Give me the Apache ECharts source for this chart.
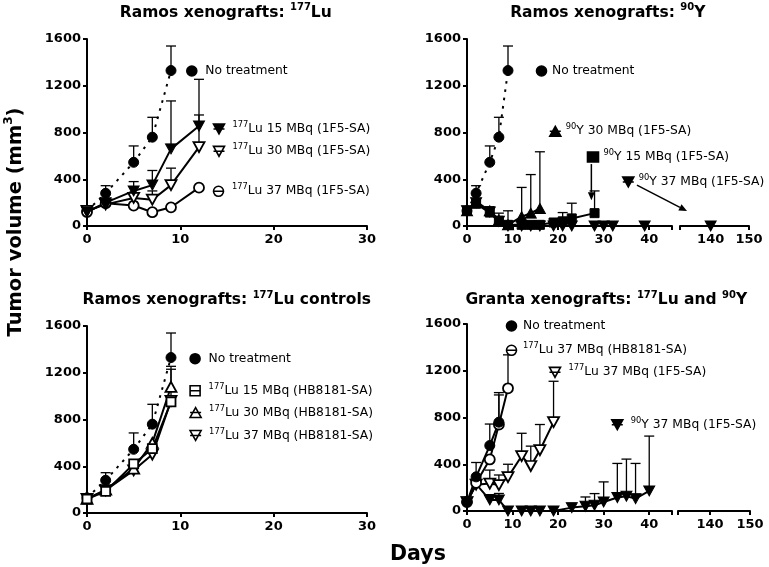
<!DOCTYPE html>
<html><head><meta charset="utf-8">
<script src="https://cdn.jsdelivr.net/npm/echarts@6/dist/echarts.min.js"></script>
<style>html,body{margin:0;padding:0;background:#fff}#c{width:769px;height:567px}</style>
</head><body><div id="c"></div>
<script>
// ---------- tick labels ----------
const yTicks = [0, 400, 800, 1200, 1600];
const xTicksShort = [0, 10, 20, 30];
const xTicksBrokenA = [0, 10, 20, 30, 40];
const xTicksBrokenB = [140, 150];

// ---------- Ramos: no treatment (same group shown in three panels) ----------
const ramosNtDays = [0, 2, 5, 7, 9];
const ramosNtMean = [130, 280, 545, 760, 1330];
const ramosNtTop  = [null, 345, 685, 930, 1540];

// ---------- Panel 1: Ramos 177Lu (1F5-SA) ----------
const lu15Days = [0, 2, 5, 7, 9, 12];
const lu15Mean = [120, 200, 300, 350, 660, 855];
const lu15Top  = [null, null, 380, 475, 1070, 950];
const lu30Days = [0, 2, 5, 7, 9, 12];
const lu30Mean = [130, 185, 240, 225, 350, 675];
const lu30Top  = [null, null, null, 300, 495, 1255];
const lu37Days = [0, 2, 5, 7, 9, 12];
const lu37Mean = [120, 195, 175, 118, 160, 328];

// ---------- Panel 2: Ramos 90Y (1F5-SA) ----------
const y15Days = [0, 2, 5, 7, 9, 12, 14, 16, 19, 21, 23, 28];
const y15Mean = [130, 190, 115, 45, 10, 10, 10, 10, 30, 40, 65, 110];
const y15Top  = [null, null, 165, 110, 130, null, null, null, null, 115, 195, 300];
const y30Days = [0, 2, 5, 7, 9, 12, 14, 16];
const y30Mean = [130, 210, 130, 50, 10, 80, 110, 150];
const y30Top  = [null, null, null, null, null, 330, 440, 635];
const y37Days = [0, 2, 5, 7, 9, 12, 14, 16, 19, 21, 23, 28, 30, 32, 39];
const y37Mean = [130, 200, 120, 40, 0, 0, 0, 0, 0, 0, 0, 0, 0, 0, 0];
const y37LateDays = [140];
const y37LateMean = [0];

// ---------- Panel 3: Ramos 177Lu controls (HB8181-SA) ----------
const hb15Days = [0, 2, 5, 7, 9];
const hb15Mean = [120, 185, 420, 550, 950];
const hb15Top  = [null, null, null, null, 1230];
const hb30Days = [0, 2, 5, 7, 9];
const hb30Mean = [120, 200, 380, 600, 1080];
const hb30Top  = [null, null, null, null, 1255];
const hb37Days = [0, 2, 5, 7, 9];
const hb37Mean = [120, 195, 365, 500, 960];

// ---------- Panel 4: Granta 177Lu and 90Y ----------
const gNtDays = [0, 2, 5, 7];
const gNtMean = [77, 292, 560, 760];
const gNtTop  = [null, 415, 744, 1013];
const gHbDays = [0, 2, 5, 7, 9];
const gHbMean = [77, 240, 441, 740, 1050];
const gHbTop  = [null, null, null, 993, 1336];
const gLuDays = [0, 2, 5, 7, 9, 12, 14, 16, 19];
const gLuMean = [77, 225, 235, 222, 290, 470, 385, 520, 760];
const gLuTop  = [null, null, 350, 308, 400, 665, 555, 740, 1110];
const gYDays = [0, 2, 5, 7, 9, 12, 14, 16, 19, 23, 26, 28, 30, 33, 35, 37, 40];
const gYMean = [77, 230, 95, 95, 0, 0, 0, 0, 0, 29, 40, 49, 77, 115, 126, 106, 172];
const gYTop  = [null, null, 140, 150, null, null, null, null, null, null, 120, 149, 249, 407, 444, 407, 641];

// ---------- helpers ----------
const FONT = 'DejaVu Sans';
const pairs = (d, v) => d.map((x, i) => [x, v[i]]);
const FILLED = { color: '#000', borderColor: '#000', borderWidth: 1 };
const OPEN = { color: '#fff', borderColor: '#000', borderWidth: 1.8 };
const SYM = {
  circle: { symbol: 'circle', symbolSize: 10, symbolRotate: 0 },
  down: { symbol: 'triangle', symbolSize: [11, 10], symbolRotate: 180 },
  up: { symbol: 'triangle', symbolSize: [11, 10], symbolRotate: 0 },
  square: { symbol: 'rect', symbolSize: 9, symbolRotate: 0 }
};
function lineSeries(name, g, days, vals, sym, filled, dotted) {
  return Object.assign({
    type: 'line', name: name, xAxisIndex: g, yAxisIndex: g,
    data: pairs(days, vals), showSymbol: true, clip: false, z: 3,
    animation: false, silent: true,
    lineStyle: { color: '#000', width: 2, type: dotted ? [2.6, 5.8] : 'solid' },
    itemStyle: filled ? FILLED : OPEN,
    emphasis: { disabled: true }
  }, SYM[sym]);
}
const errStyle = { stroke: '#000', lineWidth: 1.3 };
function errSeries(g, days, mean, top) {
  return {
    type: 'custom', xAxisIndex: g, yAxisIndex: g, z: 1, silent: true, clip: false, animation: false,
    data: days.map((d, i) => [d, mean[i], top[i]]).filter(r => r[2] != null),
    encode: { x: 0, y: [1, 2] },
    renderItem: function (params, api) {
      const x = api.value(0);
      const a = api.coord([x, api.value(1)]);
      const b = api.coord([x, api.value(2)]);
      return { type: 'group', children: [
        { type: 'line', shape: { x1: a[0], y1: a[1], x2: b[0], y2: b[1] }, style: errStyle },
        { type: 'line', shape: { x1: b[0] - 5, y1: b[1], x2: b[0] + 5, y2: b[1] }, style: errStyle }
      ] };
    }
  };
}

// ---------- grids and axes ----------
const grids = [
  { left: 87, top: 39, width: 280, height: 187 },
  { left: 467, top: 39, width: 205, height: 187 },
  { left: 680, top: 39, width: 69, height: 187 },
  { left: 87, top: 326, width: 280, height: 187 },
  { left: 467, top: 324, width: 205, height: 187 },
  { left: 678, top: 324, width: 72, height: 187 }
].map(g => Object.assign({ containLabel: false, outerBoundsMode: 'none' }, g));

const axisLine = { show: true, onZero: false, lineStyle: { color: '#000', width: 2 } };
const tickStyle = { lineStyle: { color: '#000', width: 2 }, length: 4, inside: false };
const labStyle = { color: '#000', fontFamily: FONT, fontWeight: 'bold', fontSize: 13, formatter: v => String(v) };
function xAxis(g, min, max, labels, ticks) {
  return {
    type: 'value', gridIndex: g, min: min, max: max,
    axisLine: axisLine, splitLine: { show: false },
    axisTick: Object.assign({ customValues: ticks }, tickStyle),
    axisLabel: Object.assign({ customValues: labels, margin: 7, showMinLabel: true, showMaxLabel: true }, labStyle)
  };
}
function yAxis(g, show) {
  return {
    type: 'value', gridIndex: g, min: 0, max: 1600, show: show,
    axisLine: axisLine, splitLine: { show: false },
    axisTick: Object.assign({ customValues: yTicks }, tickStyle),
    axisLabel: Object.assign({ customValues: yTicks, margin: 6 }, labStyle)
  };
}
const xAxes = [
  xAxis(0, 0, 30, xTicksShort, xTicksShort),
  xAxis(1, 0, 45, xTicksBrokenA, xTicksBrokenA.concat([45])),
  xAxis(2, 132, 150, xTicksBrokenB, [132].concat(xTicksBrokenB)),
  xAxis(3, 0, 30, xTicksShort, xTicksShort),
  xAxis(4, 0, 45, xTicksBrokenA, xTicksBrokenA.concat([45])),
  xAxis(5, 132, 150, xTicksBrokenB, [132].concat(xTicksBrokenB))
];
const yAxes = [yAxis(0, true), yAxis(1, true), yAxis(2, false), yAxis(3, true), yAxis(4, true), yAxis(5, false)];

// ---------- series ----------
const series = [
  // panel 1
  errSeries(0, ramosNtDays, ramosNtMean, ramosNtTop),
  errSeries(0, lu15Days, lu15Mean, lu15Top),
  errSeries(0, lu30Days, lu30Mean, lu30Top),
  lineSeries('p1nt', 0, ramosNtDays, ramosNtMean, 'circle', true, true),
  lineSeries('p1lu37', 0, lu37Days, lu37Mean, 'circle', false, false),
  lineSeries('p1lu30', 0, lu30Days, lu30Mean, 'down', false, false),
  lineSeries('p1lu15', 0, lu15Days, lu15Mean, 'down', true, false),
  // panel 2
  errSeries(1, ramosNtDays, ramosNtMean, ramosNtTop),
  errSeries(1, y15Days, y15Mean, y15Top),
  errSeries(1, y30Days, y30Mean, y30Top),
  lineSeries('p2nt', 1, ramosNtDays, ramosNtMean, 'circle', true, true),
  lineSeries('p2y37', 1, y37Days, y37Mean, 'down', true, false),
  lineSeries('p2y30', 1, y30Days, y30Mean, 'up', true, false),
  lineSeries('p2y15', 1, y15Days, y15Mean, 'square', true, false),
  lineSeries('p2y37late', 2, y37LateDays, y37LateMean, 'down', true, false),
  // panel 3
  errSeries(3, ramosNtDays, ramosNtMean, ramosNtTop),
  errSeries(3, hb15Days, hb15Mean, hb15Top),
  errSeries(3, hb30Days, hb30Mean, hb30Top),
  lineSeries('p3nt', 3, ramosNtDays, ramosNtMean, 'circle', true, true),
  lineSeries('p3hb37', 3, hb37Days, hb37Mean, 'down', false, false),
  lineSeries('p3hb30', 3, hb30Days, hb30Mean, 'up', false, false),
  lineSeries('p3hb15', 3, hb15Days, hb15Mean, 'square', false, false),
  // panel 4
  errSeries(4, gNtDays, gNtMean, gNtTop),
  errSeries(4, gHbDays, gHbMean, gHbTop),
  errSeries(4, gLuDays, gLuMean, gLuTop),
  errSeries(4, gYDays, gYMean, gYTop),
  lineSeries('p4y37', 4, gYDays, gYMean, 'down', true, false),
  lineSeries('p4lu37', 4, gLuDays, gLuMean, 'down', false, false),
  lineSeries('p4hb37', 4, gHbDays, gHbMean, 'circle', false, false),
  lineSeries('p4nt', 4, gNtDays, gNtMean, 'circle', true, false)
];

// ---------- legends (annotation-style, one per entry) ----------
const ICON = {
  dot: 'circle',
  downF: 'path://M0,0L10,0L5,9Z M0,4.5L10,4.5',
  downO: 'path://M0,0L10,0L5,9Z M0,4.5L10,4.5',
  upF: 'path://M5,0L10,9L0,9Z M0,4.5L10,4.5',
  upO: 'path://M5,0L10,9L0,9Z M0,4.5L10,4.5',
  circO: 'path://M0,5A5,5,0,1,1,10,5A5,5,0,1,1,0,5Z M0,5L10,5',
  sqO: 'path://M0,0L10,0L10,10L0,10Z M0,5L10,5',
  sqF: 'rect'
};
const LABEL = {
  p1nt: '{t|No treatment}', p1lu15: '{s|177}{t|Lu 15 MBq (1F5-SA)}',
  p1lu30: '{s|177}{t|Lu 30 MBq (1F5-SA)}', p1lu37: '{s|177}{t|Lu 37 MBq (1F5-SA)}',
  p2nt: '{t|No treatment}', p2y30: '{s|90}{t|Y 30 MBq (1F5-SA)}',
  p2y15: '{s|90}{t|Y 15 MBq (1F5-SA)}', p2y37: '{s|90}{t|Y 37 MBq (1F5-SA)}',
  p3nt: '{t|No treatment}', p3hb15: '{s|177}{t|Lu 15 MBq (HB8181-SA)}',
  p3hb30: '{s|177}{t|Lu 30 MBq (HB8181-SA)}', p3hb37: '{s|177}{t|Lu 37 MBq (HB8181-SA)}',
  p4nt: '{t|No treatment}', p4hb37: '{s|177}{t|Lu 37 MBq (HB8181-SA)}',
  p4lu37: '{s|177}{t|Lu 37 MBq (1F5-SA)}', p4y37: '{s|90}{t|Y 37 MBq (1F5-SA)}'
};
// [series, icon, text start x, centre y, extra gap]
const legendPlaces = [
  ['p1nt', 'dot', 205, 70, 3], ['p1lu15', 'downF', 231.7, 126, 3],
  ['p1lu30', 'downO', 231.7, 148.3, 3], ['p1lu37', 'circO', 231.7, 188.3, 3],
  ['p2nt', 'dot', 551.7, 70, 0], ['p2y30', 'upF', 565, 128.3, 0],
  ['p2y15', 'sqF', 602.7, 154, 0], ['p2y37', 'downF', 638, 179, 0],
  ['p3nt', 'dot', 208.3, 357.7, 3], ['p3hb15', 'sqO', 208.3, 387.7, 3],
  ['p3hb30', 'upO', 208.3, 409.5, 3], ['p3hb37', 'downO', 208.3, 432.5, 3],
  ['p4nt', 'dot', 522.7, 325, 1], ['p4hb37', 'circO', 522.7, 347.3, 1],
  ['p4lu37', 'downO', 567.7, 369.3, 3], ['p4y37', 'downF', 630, 421.7, 3]
];
const legendRich = {
  t: { fontFamily: FONT, fontSize: 12.3, lineHeight: 16, color: '#000' },
  s: { fontFamily: FONT, fontSize: 8.3, lineHeight: 9, verticalAlign: 'top', color: '#000' },
  p: { width: 3 }, q: { width: 1 }
};
const legends = legendPlaces.map(([name, icon, tx, cy, pad]) => ({
  show: true, orient: 'horizontal', padding: 0, itemGap: 0,
  left: tx - 16 - pad, top: cy - 5, itemWidth: 11, itemHeight: 10,
  selectedMode: false, data: [{ name: name, icon: ICON[icon] }],
  itemStyle: { borderWidth: 1.6, borderColor: '#000' },
  formatter: n => (pad === 3 ? '{p| }' : pad === 1 ? '{q| }' : '') + LABEL[n],
  textStyle: { color: '#000', fontFamily: FONT, fontSize: 12.3, rich: legendRich }
}));

// ---------- titles ----------
const titleRich = {
  t: { fontFamily: FONT, fontWeight: 'bold', fontSize: 15.5, lineHeight: 20, color: '#000' },
  s: { fontFamily: FONT, fontWeight: 'bold', fontSize: 10, lineHeight: 11.6, verticalAlign: 'top', color: '#000' }
};
function titleText(id, x, y, text) {
  return { type: 'text', id: id, x: x, y: y, silent: true,
    style: { text: text, rich: titleRich, align: 'center', verticalAlign: 'middle' } };
}
const graphics = [
  titleText('t1', 225.8, 12.5, '{t|Ramos xenografts: }{s|177}{t|Lu}'),
  titleText('t2', 607.8, 12.5, '{t|Ramos xenografts: }{s|90}{t|Y}'),
  titleText('t3', 226.7, 300, '{t|Ramos xenografts: }{s|177}{t|Lu controls}'),
  titleText('t4', 606.3, 300, '{t|Granta xenografts: }{s|177}{t|Lu and }{s|90}{t|Y}'),
  { type: 'text', id: 'ytitle', x: 15.5, y: 222, rotation: Math.PI / 2, silent: true,
    style: { text: '{t|Tumor volume (mm}{s|3}{t|)}', align: 'center', verticalAlign: 'middle',
      rich: {
        t: { fontFamily: FONT, fontWeight: 'bold', fontSize: 19.5, lineHeight: 26, color: '#000' },
        s: { fontFamily: FONT, fontWeight: 'bold', fontSize: 12, lineHeight: 13, verticalAlign: 'top', color: '#000' }
      } } },
  { type: 'text', id: 'xtitle', x: 418, y: 555, silent: true,
    style: { text: 'Days', fontFamily: FONT, fontWeight: 'bold', fontSize: 20.5, fill: '#000',
      align: 'center', verticalAlign: 'middle' } }
];

const chart = echarts.init(document.getElementById('c'), null, { renderer: 'canvas' });
chart.setOption({
  animation: false,
  backgroundColor: '#fff',
  textStyle: { fontFamily: FONT },
  grid: grids, xAxis: xAxes, yAxis: yAxes,
  legend: legends,
  series: series,
  graphic: { elements: graphics }
});

// ---------- arrows in the 90Y panel (data coordinates of grid 1) ----------
const arrowSpecs = [
  { id: 'a1', from: [27.3, 530], to: [27.3, 220] },
  { id: 'a2', from: [37.3, 350], to: [48.3, 128] }
];
const arrowEls = [];
arrowSpecs.forEach(a => {
  const p0 = chart.convertToPixel({ gridIndex: 1 }, a.from);
  const p1 = chart.convertToPixel({ gridIndex: 1 }, a.to);
  const dx = p1[0] - p0[0], dy = p1[1] - p0[1];
  const L = Math.sqrt(dx * dx + dy * dy), ux = dx / L, uy = dy / L;
  const hl = 8, hw = 3.5;
  const bx = p1[0] - ux * hl, by = p1[1] - uy * hl;
  arrowEls.push({ type: 'line', id: a.id + 'l', silent: true,
    shape: { x1: p0[0], y1: p0[1], x2: bx, y2: by }, style: { stroke: '#000', lineWidth: 1.5 } });
  arrowEls.push({ type: 'polygon', id: a.id + 'h', silent: true,
    shape: { points: [[p1[0], p1[1]], [bx - uy * hw, by + ux * hw], [bx + uy * hw, by - ux * hw]] },
    style: { fill: '#000' } });
});
chart.setOption({ graphic: { elements: graphics.concat(arrowEls) } });
</script>
</body></html>
